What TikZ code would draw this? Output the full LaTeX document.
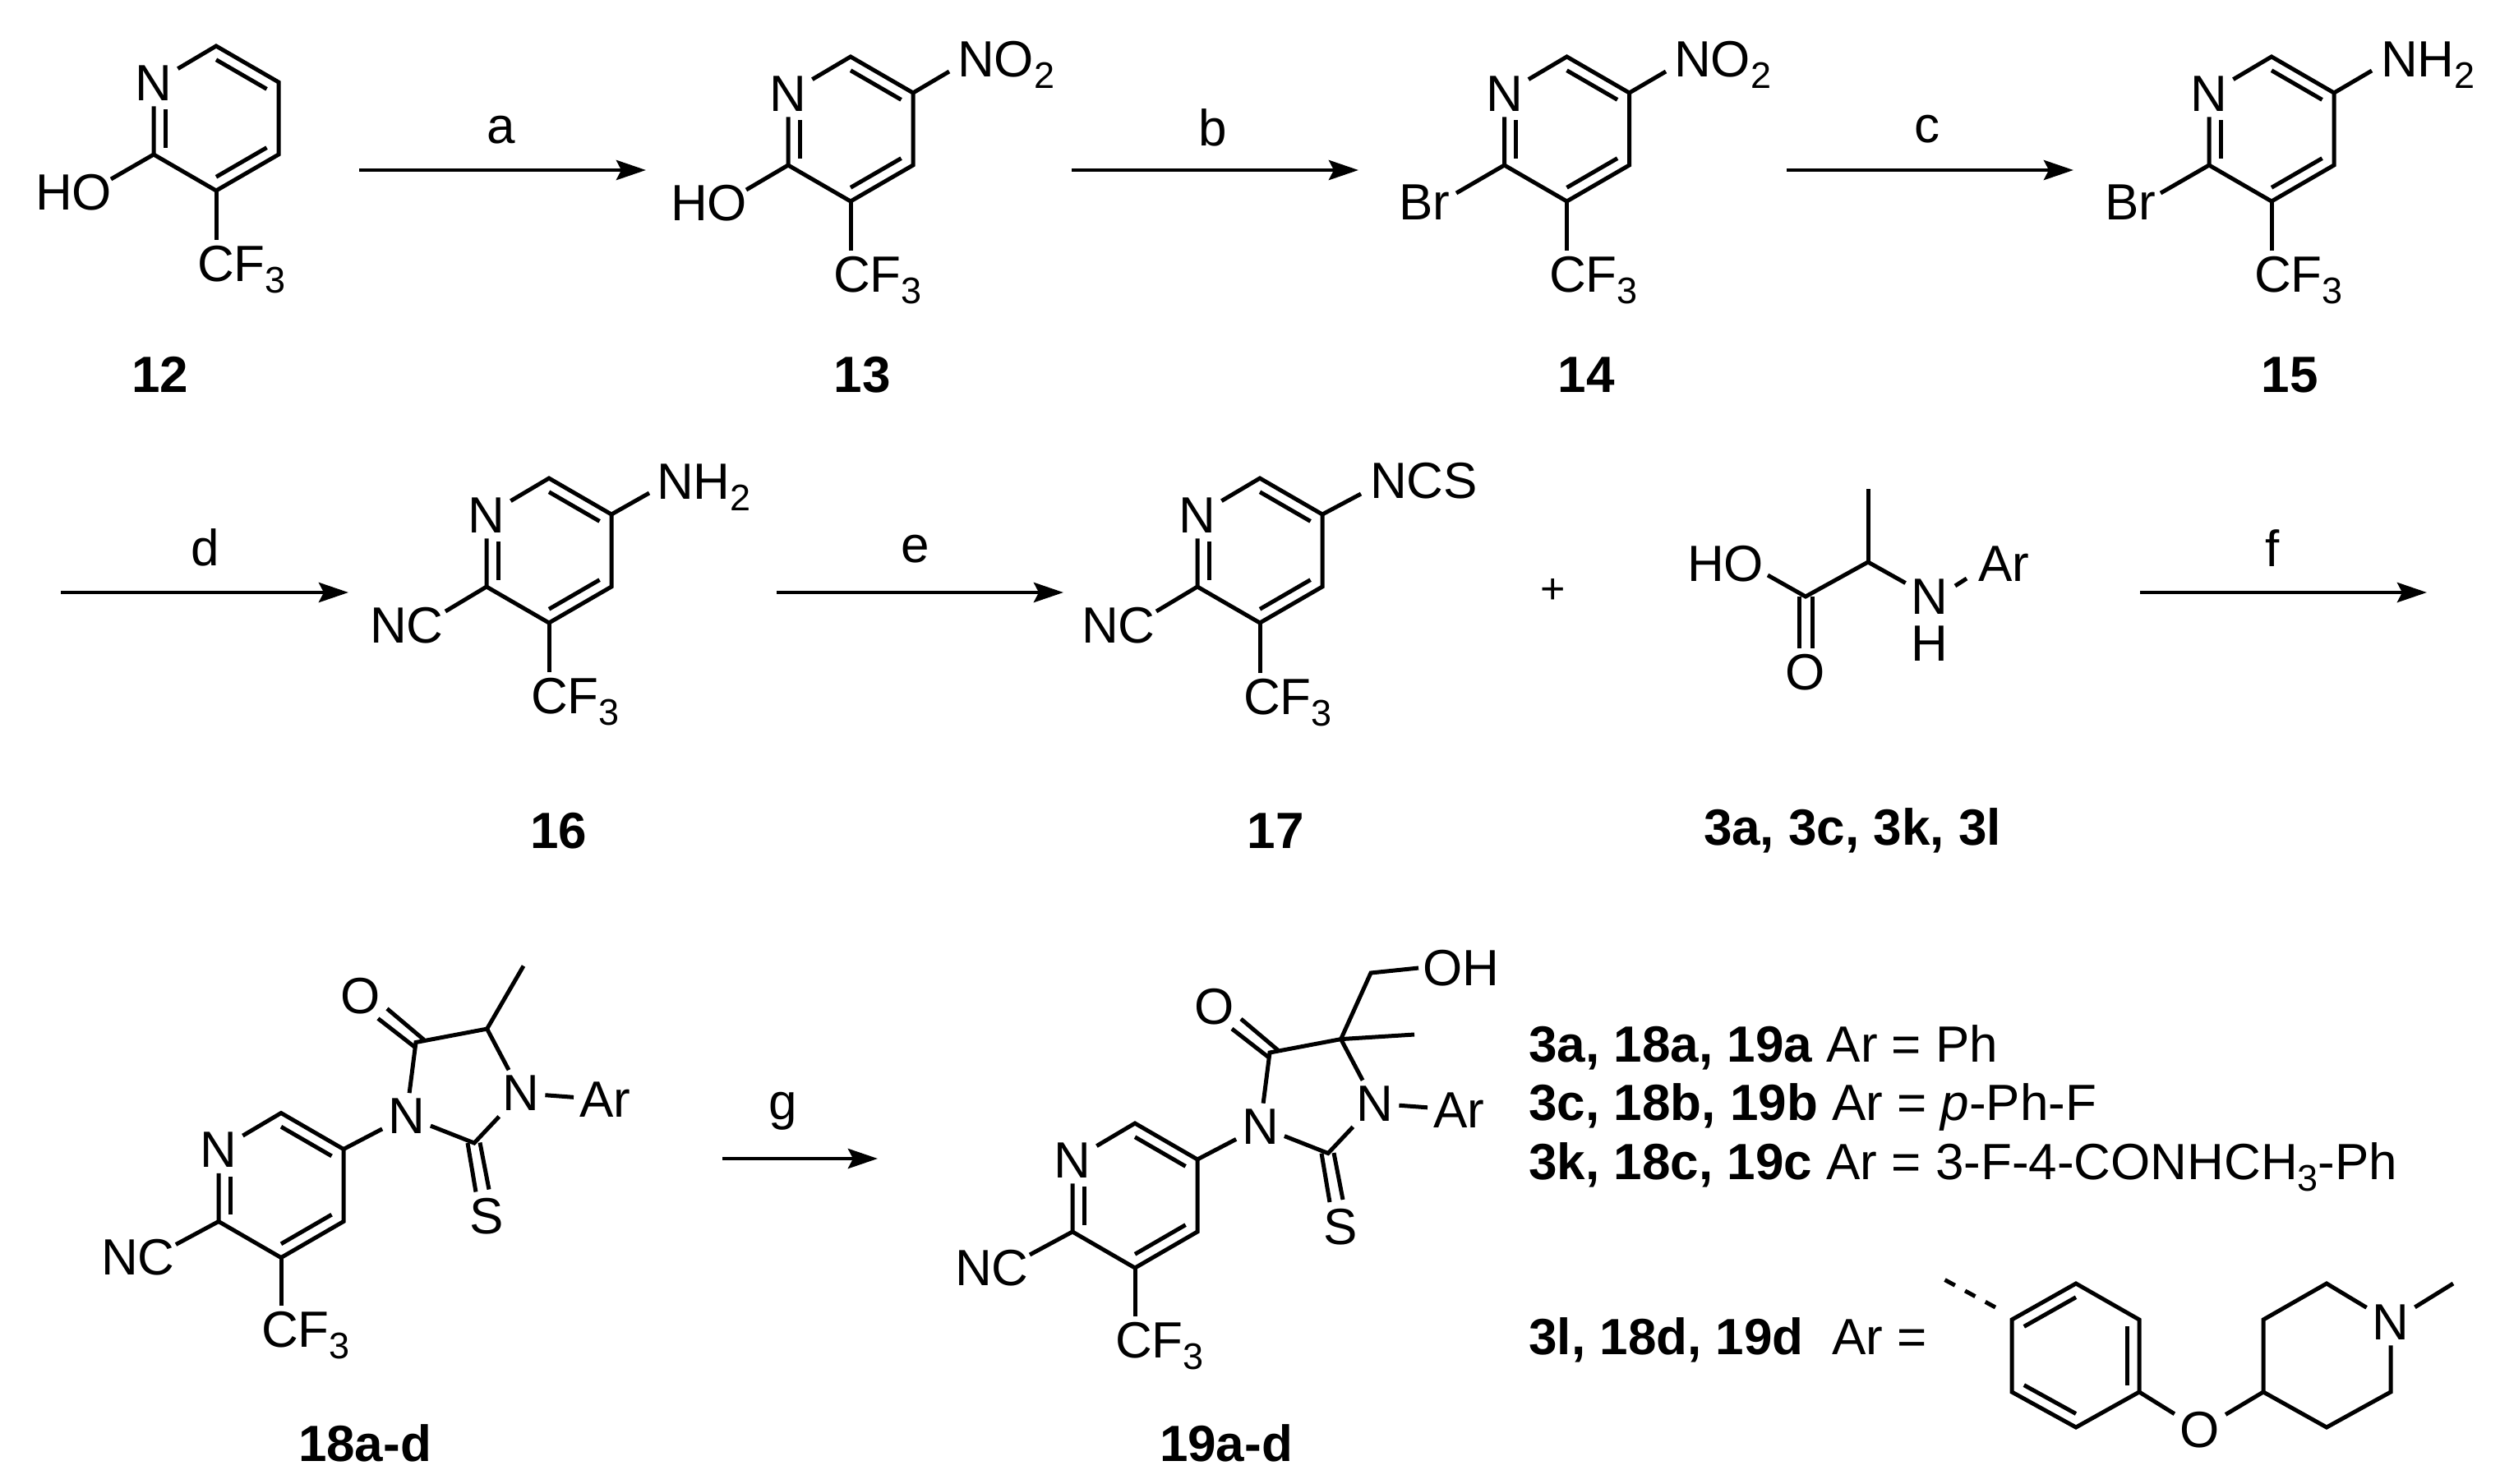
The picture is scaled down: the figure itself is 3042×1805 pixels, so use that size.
\documentclass[tikz,border=0pt]{standalone}
\usepackage{fontspec}
\setmainfont{Liberation Sans}
\usetikzlibrary{calc,arrows.meta}
\newcommand{\chemf}{\fontsize{31}{36}\selectfont}
\newcommand{\chsub}[1]{\raisebox{-7pt}{\fontsize{22.5}{26}\selectfont #1}}
\tikzset{
  bond/.style={line width=2.5pt,line join=miter,black},
  atom/.style={font=\chemf,inner sep=0pt,outer sep=3.5pt,text=black},
  lab/.style={atom,anchor=base west,xshift=-5pt},
  cmpd/.style={font=\chemf\bfseries,inner sep=0pt,text=black},
  legend/.style={font=\chemf,inner sep=0pt,anchor=base west,text=black},
  rxn/.style={line width=2.4pt,-{Stealth[length=18pt,width=12pt,inset=3pt]}},
  rlabel/.style={font=\chemf,inner sep=0pt},
}
% inner line of a double bond, towards the ring centre
\newcommand{\inner}[3]{\draw[bond] ($(#1)!.19!(#3)$) -- ($(#2)!.19!(#3)$);}
% pyridine ring: name, centre x, centre y
\newcommand{\mypyr}[3]{%
  \coordinate (#1c) at (#2,#3);
  \coordinate (#1t) at (#2,#3-88);
  \coordinate (#1ur) at (#2+76,#3-44);
  \coordinate (#1lr) at (#2+76,#3+44);
  \coordinate (#1b) at (#2,#3+88);
  \coordinate (#1ll) at (#2-76,#3+44);
  \node[atom] (#1n) at (#2-76,#3-43) {N};
  \draw[bond] (#1n) -- (#1t) -- (#1ur) -- (#1lr) -- (#1b) -- (#1ll) -- (#1n);
  \inner{#1t}{#1ur}{#1c}
  \inner{#1lr}{#1b}{#1c}
  \draw[bond,shorten >=12pt] ($(#1ll)!.19!(#1c)$) -- ($(#1n)!.19!(#1c)$);
}
% substituent text plus the bond that leads to it
\newcommand{\subst}[8]{% mol, vertex, name, text, lx, ly, endx, endy
  \node[lab] (#1#3) at (#5,#6) {#4};
  \coordinate (#1#3e) at (#7,#8);
  \draw[bond] (#1#2) -- (#1#3e);
}
\newcommand{\cfthree}[3]{% mol, lx, ly
  \node[lab] (#1cf) at (#2,#3) {CF\chsub{3}};
  \draw[bond] (#1b) -- (#1b |- #1cf.north);
}
\newcommand{\reaction}[7]{% name, x1, x2, y, label, lx, ly
  \coordinate (#1s) at (#2,#4);
  \coordinate (#1e) at (#3,#4);
  \draw[rxn] (#1s) -- (#1e);
  \node[rlabel] (#1l) at (#6,#7) {#5};
}
% thiohydantoin core of 18 and 19, in the coordinates of 19
\newcommand{\core}[1]{%
  \mypyr{#1}{1381}{1455}
  \cfthree{#1}{1360}{1652}
  \subst{#1}{ll}{nc}{NC}{1165}{1564}{1253}{1527}
  \node[atom] (#1na) at (1533.5,1371) {N};
  \node[atom] (#1nb) at (1673,1343) {N};
  \node[atom] (#1o) at (1478,1225) {O};
  \node[atom] (#1s) at (1631.5,1493) {S};
  \node[lab] (#1ar) at (1747,1372) {Ar};
  \coordinate (#1co) at (1545,1281);
  \coordinate (#1cq) at (1631.6,1264.6);
  \coordinate (#1cs) at (1616,1403.5);
  \draw[bond] (#1ur) -- (#1na);
  \draw[bond] (#1na) -- (#1co) -- (#1cq) -- (#1nb);
  \draw[bond] (#1nb) -- (#1cs) -- (#1na);
  \draw[bond] (#1nb) -- (#1ar);
  \coordinate (#1o1) at (1544,1287);
  \coordinate (#1o2) at (1499,1252);
  \coordinate (#1o3) at (1555,1278);
  \coordinate (#1o4) at (1510,1240);
  \draw[bond] (#1o1) -- (#1o2);
  \draw[bond] (#1o3) -- (#1o4);
  \coordinate (#1s1) at (1608,1403.5);
  \coordinate (#1s2) at (1618,1463);
  \coordinate (#1s3) at (1623,1403);
  \coordinate (#1s4) at (1634,1460);
  \draw[bond] (#1s1) -- (#1s2);
  \draw[bond] (#1s3) -- (#1s4);
}
\begin{document}
\begin{tikzpicture}[x=0.5pt,y=-0.5pt]
\useasboundingbox (0,0) rectangle (3042,1805);

% --- row 1
\mypyr{A}{263}{144}
\subst{A}{ll}{ho}{HO}{46}{255}{135}{218}
\cfthree{A}{243}{342}
\node[cmpd] (A12) at (195,456) {12};

\mypyr{B}{1035}{157}
\subst{B}{ll}{ho}{HO}{819}{268}{908}{231}
\cfthree{B}{1017}{355}
\subst{B}{ur}{no}{NO\chsub{2}}{1168}{93}{1155}{87}
\node[cmpd] (B13) at (1049,456) {13};

\mypyr{C}{1906.5}{157}
\subst{C}{ll}{br}{Br}{1705}{267}{1772}{235}
\cfthree{C}{1888}{355}
\subst{C}{ur}{no}{NO\chsub{2}}{2040}{93}{2027}{87}
\node[cmpd] (C14) at (1930,456) {14};

\mypyr{D}{2764}{157}
\subst{D}{ll}{br}{Br}{2564}{267}{2629}{235}
\cfthree{D}{2746}{355}
\subst{D}{ur}{nh}{NH\chsub{2}}{2900}{93}{2886}{86}
\node[cmpd] (D15) at (2786,456) {15};

\reaction{ra}{437}{786}{207}{a}{610}{158}
\reaction{rb}{1304}{1653}{207}{b}{1476}{155}
\reaction{rc}{2174}{2523}{207}{c}{2345}{157}

% --- row 2
\mypyr{E}{668}{670}
\subst{E}{ll}{nc}{NC}{453}{782}{542}{744}
\cfthree{E}{649}{868}
\subst{E}{ur}{nh}{NH\chsub{2}}{802}{607}{790}{600}
\node[cmpd] (E16) at (680,1011) {16};

\mypyr{F}{1533}{670}
\subst{F}{ll}{nc}{NC}{1319}{782}{1407}{744}
\cfthree{F}{1516}{869}
\subst{F}{ur}{ncs}{NCS}{1670}{606}{1656}{601}
\node[cmpd] (F17) at (1552,1011) {17};

\node[font=\fontsize{26}{30}\selectfont,inner sep=0pt] (plus) at (1890,719) {+};

% amino acid
\coordinate (Gca) at (2273,684);
\coordinate (Gme) at (2273,595);
\coordinate (Gc) at (2197,726);
\node[lab] (Gho) at (2056,707.5) {HO};
\node[atom] (Gn) at (2348,726) {N};
\node[atom] (Gh) at (2348,783) {H};
\node[atom] (Go) at (2197,818) {O};
\node[lab] (Gar) at (2410,707.5) {Ar};
\coordinate (Ghoe) at (2151,700);
\coordinate (Garb) at (2379,713);
\coordinate (Gare) at (2393,704);
\draw[bond] (Gme) -- (Gca);
\draw[bond] (Ghoe) -- (Gc) -- (Gca) -- (Gn);
\draw[bond] (Garb) -- (Gare);
\coordinate (Gd1) at (2189,726);
\coordinate (Gd2) at (2189,789);
\coordinate (Gd3) at (2205,726);
\coordinate (Gd4) at (2205,789);
\draw[bond] (Gd1) -- (Gd2);
\draw[bond] (Gd3) -- (Gd4);
\node[cmpd] (G3) at (2254,1011) {3a, 3c, 3k, 3l};

\reaction{rd}{74}{424}{721}{d}{250}{666}
\reaction{re}{945}{1294}{721}{e}{1114}{668}
\reaction{rf}{2604}{2953}{721}{f}{2765}{667}

% --- row 3
\begin{scope}[shift={(-1039,-12.5)}]
  \core{H}
  \coordinate (Hme) at (1676,1188);
  \draw[bond] (Hcq) -- (Hme);
\end{scope}
\node[cmpd] (H18) at (444,1756) {18a-d};

\begin{scope}
  \core{I}
  \coordinate (Ime) at (1721,1259);
  \coordinate (Ich) at (1668,1184);
  \coordinate (Ioe) at (1726,1178);
  \node[lab] (Ioh) at (1734,1199) {OH};
  \draw[bond] (Icq) -- (Ime);
  \draw[bond] (Icq) -- (Ich) -- (Ioe);
\end{scope}
\node[cmpd] (I19) at (1492,1756) {19a-d};

\reaction{rg}{879}{1068}{1410}{g}{953}{1352}

% --- legend
\node[legend] (L1) at (1860,1292) {\textbf{3a, 18a, 19a} Ar = Ph};
\node[legend] (L2) at (1860,1363) {\textbf{3c, 18b, 19b} Ar = \textit{p}-Ph-F};
\node[legend] (L3) at (1860,1435) {\textbf{3k, 18c, 19c} Ar = 3-F-4-CONHCH\chsub{3}-Ph};
\node[legend] (L4) at (1860,1648) {\textbf{3l, 18d, 19d}\ \ Ar =};

% --- aryl ether group
\coordinate (Jc) at (2526,1650);
\coordinate (Jt) at (2526,1562);
\coordinate (Jur) at (2603,1606);
\coordinate (Jlr) at (2603,1694);
\coordinate (Jb) at (2526,1737);
\coordinate (Jll) at (2448,1694);
\coordinate (Jul) at (2448,1606);
\draw[bond] (Jt) -- (Jur) -- (Jlr) -- (Jb) -- (Jll) -- (Jul) -- cycle;
\inner{Jul}{Jt}{Jc}
\inner{Jur}{Jlr}{Jc}
\inner{Jll}{Jb}{Jc}
\coordinate (Jd1) at (2428,1591);
\coordinate (Jd2) at (2360,1554);
\draw[bond,dash pattern=on 7pt off 7pt] (Jd1) -- (Jd2);
\node[atom] (Jo) at (2677,1740) {O};
\coordinate (Kll) at (2754,1694);
\coordinate (Kul) at (2754,1606);
\coordinate (Kt) at (2831,1562);
\coordinate (Klr) at (2909,1694);
\coordinate (Kb) at (2831,1737);
\node[atom] (Kn) at (2909,1609) {N};
\coordinate (Kme) at (2985,1562);
\draw[bond] (Jlr) -- (Jo) -- (Kll);
\draw[bond] (Kn) -- (Kt) -- (Kul) -- (Kll) -- (Kb) -- (Klr) -- (Kn);
\draw[bond] (Kn) -- (Kme);
\end{tikzpicture}
\end{document}
